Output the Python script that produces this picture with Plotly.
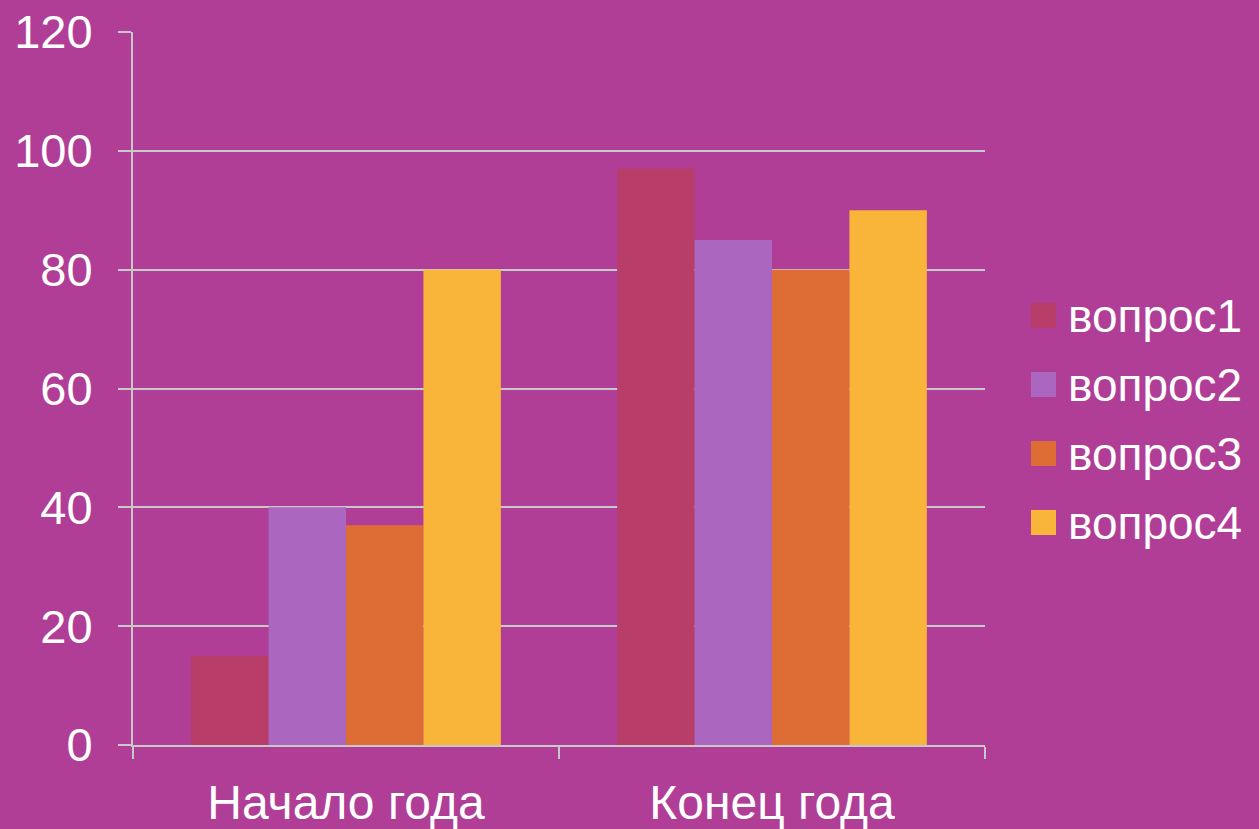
import plotly.graph_objects as go

categories = ["Начало года", "Конец года"]
series_names = ["вопрос1", "вопрос2", "вопрос3", "вопрос4"]
q1 = [15, 97]
q2 = [40, 85]
q3 = [37, 80]
q4 = [80, 90]
series_values = [q1, q2, q3, q4]
colors = ["#B83D68", "#AB66BF", "#DD6C35", "#F9B53A"]
y_ticks = [0, 20, 40, 60, 80, 100, 120]

BG = "#B03E97"
GRID = "#C8C8C8"
FONT = "Liberation Sans, Arial, sans-serif"

W, H = 1259, 829
ML, MR, MT, MB = 133, 274, 32, 84
PW, PH = W - ML - MR, H - MT - MB

fig = go.Figure()
for name, vals, col in zip(series_names, series_values, colors):
    fig.add_trace(go.Bar(x=categories, y=vals, name=name, marker_color=col,
                         marker_line_width=0, showlegend=False))

# manual legend (larger swatches than plotly's built-in)
leg_x0 = 1031
leg_y0 = 315.5
leg_dy = 69
sq = 25
shapes = []
annotations = []
for i, (name, col) in enumerate(zip(series_names, colors)):
    cy = leg_y0 + i * leg_dy
    shapes.append(dict(type="rect", xref="paper", yref="paper",
                       x0=(leg_x0 - ML) / PW, x1=(leg_x0 + sq - ML) / PW,
                       y0=(MT + PH - (cy + sq / 2)) / PH, y1=(MT + PH - (cy - sq / 2)) / PH,
                       fillcolor=col, line_width=0))
    annotations.append(dict(xref="paper", yref="paper", x=(1066 - ML) / PW,
                            y=(MT + PH - cy) / PH, xanchor="left", yanchor="middle",
                            text=name, showarrow=False,
                            font=dict(family=FONT, size=46, color="white")))

fig.update_layout(
    width=W, height=H,
    margin=dict(l=ML, r=MR, t=MT, b=MB, pad=0, autoexpand=False),
    paper_bgcolor=BG, plot_bgcolor=BG,
    barmode="group", bargap=0.273, bargroupgap=0,
    shapes=shapes, annotations=annotations,
    font=dict(family=FONT, color="white"),
)
fig.update_xaxes(
    type="category", range=[-0.5, 1.5], automargin=False,
    showline=True, linecolor=GRID, linewidth=2,
    ticks="outside", tickson="boundaries", ticklen=12, tickcolor=GRID, tickwidth=2,
    showgrid=False, tickfont=dict(family=FONT, size=48, color="white"),
    ticklabelstandoff=14,
)
fig.update_yaxes(
    range=[0, 120], tickvals=y_ticks, automargin=False,
    showline=True, linecolor=GRID, linewidth=2,
    showgrid=True, gridcolor=GRID, gridwidth=2,
    ticks="outside", ticklen=13, tickcolor=GRID, tickwidth=2,
    zeroline=False,
    tickfont=dict(family=FONT, size=47, color="white"),
    ticklabelstandoff=16,
)

fig.write_html(
    "out.html",
    config={"displayModeBar": False},
    post_script="document.body.style.margin='0';document.body.style.overflow='hidden';",
)
